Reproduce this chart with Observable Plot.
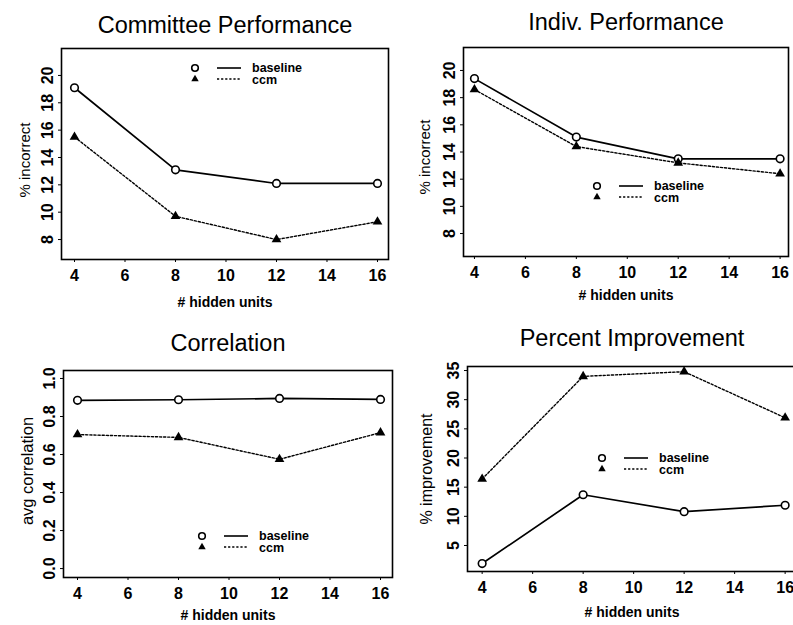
<!DOCTYPE html>
<html><head><meta charset="utf-8">
<script src="https://cdn.jsdelivr.net/npm/d3@7"></script>
<script src="https://cdn.jsdelivr.net/npm/@observablehq/plot@0.6"></script>
<style>
html,body{margin:0;padding:0;background:#fff;overflow:hidden;width:793px;height:625px;}
#chart{position:relative;width:793px;height:625px;overflow:hidden;}
#chart > svg{position:absolute;overflow:visible;}
</style></head><body><div id="chart"></div>
<script>
// ---- data ----
const hiddenUnits = [4, 8, 12, 16];
const seriesNames = ["baseline", "ccm"];
const xTicks = [4, 6, 8, 10, 12, 14, 16];
const committeeBaseline = [19.1, 13.1, 12.1, 12.1];
const committeeCcm = [15.5, 9.7, 8.0, 9.3];
const indivBaseline = [19.4, 15.1, 13.5, 13.5];
const indivCcm = [18.6, 14.4, 13.2, 12.4];
const corrBaseline = [0.885, 0.888, 0.895, 0.890];
const corrCcm = [0.705, 0.690, 0.575, 0.715];
const improveBaseline = [1.9, 13.7, 10.8, 11.9];
const improveCcm = [16.4, 34.0, 34.8, 26.9];
const errorTicks = [8, 10, 12, 14, 16, 18, 20];
const corrTicks = [0, 0.2, 0.4, 0.6, 0.8, 1.0];
const improveTicks = [5, 10, 15, 20, 25, 30, 35];
const titles = ["Committee Performance", "Indiv. Performance", "Correlation", "Percent Improvement"];
const yLabels = ["% incorrect", "% incorrect", "avg correlation", "% improvement"];
const xLabel = "# hidden units";

const FONT = "'Liberation Sans', Arial, Helvetica, sans-serif";
const DASH = "2.2,1.9";

// ---- layout ----
const panels = [
  {title: titles[0], yLabel: yLabels[0], base: committeeBaseline, ccm: committeeCcm, yTicks: errorTicks, fmt: d3.format("d"),
   left: 0, top: 0, width: 396, height: 310, m: [48, 8, 51, 61], xDomain: [3.485, 16.436], yDomain: [6.54, 21.97],
   titleDy: 23, yLabelDx: 36, yLabelDy: 6, yLabelSize: 15, xLabelDy: 43, legend: [134, 20]},
  {title: titles[1], yLabel: yLabels[1], base: indivBaseline, ccm: indivCcm, yTicks: errorTicks, fmt: d3.format("d"),
   left: 396, top: 0, width: 397, height: 310, m: [47, 5, 54, 67], xDomain: [3.57, 16.33], yDomain: [6.31, 21.69],
   titleDy: 25, yLabelDx: 38, yLabelDy: 5, yLabelSize: 15, xLabelDy: 39, legend: [134, 139]},
  {title: titles[2], yLabel: yLabels[2], base: corrBaseline, ccm: corrCcm, yTicks: corrTicks, fmt: d3.format(".1f"),
   left: 0, top: 310, width: 396, height: 315, m: [60, 4, 48, 63], xDomain: [3.445, 16.475], yDomain: [-0.047, 1.042],
   titleDy: 27, yLabelDx: 36, yLabelDy: -3, yLabelSize: 16.5, xLabelDy: 38, legend: [139, 166]},
  {title: titles[3], yLabel: yLabels[3], base: improveBaseline, ccm: improveCcm, yTicks: improveTicks, fmt: d3.format("d"),
   left: 396, top: 310, width: 401, height: 315, m: [56, 1, 54, 71], xDomain: [3.42, 16.45], yDomain: [0.54, 35.69],
   titleDy: 28, yLabelDx: 41, yLabelDy: 0, yLabelSize: 16, xLabelDy: 41, legend: [135, 92]}
];

function legendMark(pos) {
  return (index, scales, values, dims) => {
    const g = d3.create("svg:g").attr("font-family", FONT).attr("font-size", 12.5)
      .attr("font-weight", "bold").attr("text-anchor", "start");
    const x0 = dims.marginLeft + pos[0], y0 = dims.marginTop + pos[1], y1 = y0 + 11;
    g.append("circle").attr("cx", x0).attr("cy", y0).attr("r", 3.3)
      .attr("fill", "white").attr("stroke", "black").attr("stroke-width", 1.6);
    g.append("line").attr("x1", x0 + 22).attr("x2", x0 + 46).attr("y1", y0).attr("y2", y0)
      .attr("stroke", "black").attr("stroke-width", 1.6);
    g.append("text").attr("x", x0 + 57).attr("y", y0 - 0.5).attr("dy", "0.32em").text(seriesNames[0]);
    g.append("path").attr("d", d3.symbol(d3.symbolTriangle, 24)()).attr("transform", `translate(${x0},${y1})`);
    g.append("line").attr("x1", x0 + 22).attr("x2", x0 + 46).attr("y1", y1).attr("y2", y1)
      .attr("stroke", "black").attr("stroke-width", 1.3).attr("stroke-dasharray", DASH);
    g.append("text").attr("x", x0 + 57).attr("y", y1 + 1).attr("dy", "0.32em").text(seriesNames[1]);
    return g.node();
  };
}

const root = document.getElementById("chart");
for (const p of panels) {
  const baseRows = hiddenUnits.map((h, i) => ({h, v: p.base[i], s: seriesNames[0]}));
  const ccmRows = hiddenUnits.map((h, i) => ({h, v: p.ccm[i], s: seriesNames[1]}));
  const centered = {textAnchor: "middle", lineAnchor: "middle"};
  const svg = Plot.plot({
    width: p.width, height: p.height,
    marginTop: p.m[0], marginRight: p.m[1], marginBottom: p.m[2], marginLeft: p.m[3],
    style: {fontFamily: FONT, fontSize: "16px", color: "black", background: "transparent"},
    x: {type: "linear", domain: p.xDomain},
    y: {type: "linear", domain: p.yDomain},
    marks: [
      Plot.frame({stroke: "black", strokeWidth: 1.6}),
      Plot.axisX({ticks: xTicks, tickSize: 3, tickPadding: 7, tickFormat: "d", label: null, fontSize: 16, fontWeight: "bold"}),
      Plot.axisY({ticks: p.yTicks, tickSize: 3, tickFormat: () => "", label: null}),
      Plot.text(p.yTicks, {y: d => d, frameAnchor: "left", dx: -14, rotate: -90, text: p.fmt, fontSize: 16, fontWeight: "bold", ...centered}),
      Plot.text([p.title], {frameAnchor: "top", dy: -p.titleDy, text: d => d, fontSize: 23.5, ...centered}),
      Plot.text([p.yLabel], {frameAnchor: "left", dx: -p.yLabelDx, dy: p.yLabelDy, rotate: -90, text: d => d, fontSize: p.yLabelSize, ...centered}),
      Plot.text([xLabel], {frameAnchor: "bottom", dy: p.xLabelDy, text: d => d, fontSize: 14, fontWeight: "bold", ...centered}),
      Plot.line(baseRows, {x: "h", y: "v", stroke: "black", strokeWidth: 1.7}),
      Plot.line(ccmRows, {x: "h", y: "v", stroke: "black", strokeWidth: 1.4, strokeDasharray: DASH}),
      Plot.dot(baseRows, {x: "h", y: "v", r: 3.8, fill: "white", stroke: "black", strokeWidth: 1.6}),
      Plot.dot(ccmRows, {x: "h", y: "v", symbol: "triangle", r: 3.6, fill: "black", stroke: "none"}),
      legendMark(p.legend)
    ]
  });
  svg.style.left = p.left + "px";
  svg.style.top = p.top + "px";
  root.appendChild(svg);
}
</script></body></html>
